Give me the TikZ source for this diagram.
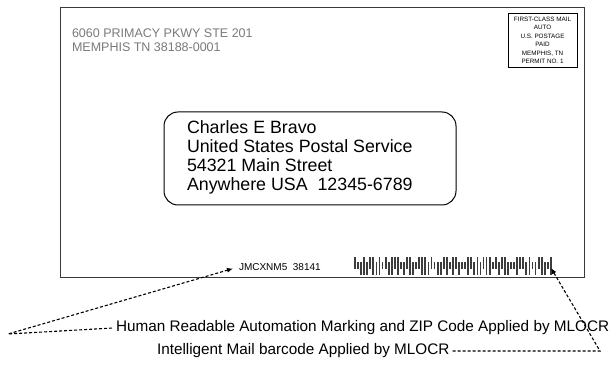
\documentclass[tikz,border=0pt]{standalone}
\usepackage{fontspec}
\setmainfont{Liberation Sans}
\usetikzlibrary{arrows.meta}
\definecolor{envline}{HTML}{3A3A3A}
\definecolor{retgray}{HTML}{7A7A7A}
\definecolor{barcol}{HTML}{3C3C3C}
\begin{document}
\begin{tikzpicture}[x=1pt,y=-1pt,
  every node/.style={inner sep=0pt,outer sep=0pt},
  txt/.style={anchor=base west},
  retaddr/.style={txt,text=retgray,font=\fontsize{12.5}{15}\selectfont},
  stamptxt/.style={anchor=base,font=\fontsize{6.3}{7}\selectfont},
  addrtxt/.style={txt,font=\fontsize{17.8}{19}\selectfont},
  note/.style={txt,font=\fontsize{15.3}{18}\selectfont},
  dsh/.style={line width=1.1pt,dash pattern=on 3pt off 2pt,-{Latex[length=6pt,width=5pt]}}]
\useasboundingbox (0,0) rectangle (614,371);
\fill[white] (0,0) rectangle (614,371);
% envelope
\draw[envline,line width=1pt] (60,8) rectangle (584,278);
% return address
\node[retaddr] (ret1) at (72,38) {6060 PRIMACY PKWY STE 201};
\node[retaddr] (ret2) at (72,52) {MEMPHIS TN 38188-0001};
% stamp / indicia
\draw[line width=0.8pt] (508,13) rectangle (577,67);
\node[stamptxt] (s1) at (542.5,22) {FIRST-CLASS MAIL};
\node[stamptxt] (s2) at (542.5,30) {AUTO};
\node[stamptxt] (s3) at (542.5,39) {U.S. POSTAGE};
\node[stamptxt] (s4) at (542.5,47) {PAID};
\node[stamptxt] (s5) at (542.5,56) {MEMPHIS, TN};
\node[stamptxt] (s6) at (542.5,64) {PERMIT NO. 1};
% address window
\draw[line width=1pt,rounded corners=14pt] (164,112) rectangle (456,205);
\node[addrtxt] (a1) at (187,134) {Charles E Bravo};
\node[addrtxt] (a2) at (187,153) {United States Postal Service};
\node[addrtxt] (a3) at (187,172) {54321 Main Street};
\node[addrtxt] (a4) at (187,191) {Anywhere USA\ \ 12345-6789};
% automation marking
\node[txt,font=\fontsize{10}{12}\selectfont] (jmc) at (239,271) {JMCXNM5\ \ 38141};
% barcode
\node[minimum width=200pt,minimum height=18pt] (bc) at (453,266) {};
\foreach \t [count=\i] in {A,T,D,F,D,A,F,D,F,T,A,D,F,A,F,T,D,A,F,D,T,A,F,F,D,A,T,D,D,A,F,T,F,A,D,T,T,F,A,D,F,D,A,F,F,T,A,D,A,F,D,T,T,F,A,A,D,F,T,D,A,F,D,T,F}{
  \pgfmathsetmacro\xx{355+(\i-1)*3.06}
  \if\t F \fill[barcol] (\xx-0.9,257) rectangle (\xx+0.9,275);\fi
  \if\t A \fill[barcol] (\xx-0.9,257) rectangle (\xx+0.9,269.5);\fi
  \if\t D \fill[barcol] (\xx-0.9,262.5) rectangle (\xx+0.9,275);\fi
  \if\t T \fill[barcol] (\xx-0.9,262.5) rectangle (\xx+0.9,269.5);\fi
}
% captions
\node[note] (human) at (116,332) {Human Readable Automation Marking and ZIP Code Applied by MLOCR};
\node[note] (intel) at (157,355) {Intelligent Mail barcode Applied by MLOCR};
% connectors
\coordinate (v1) at (8,334);
\coordinate (v2) at (600,351);
\coordinate (tip2) at (551,268);
\draw[dsh] ([xshift=-4pt]human.west) -- (v1) -- ([xshift=-6pt,yshift=-1pt]jmc.west);
\draw[dsh] ([xshift=3pt]intel.east) -- (v2) -- (tip2);
\end{tikzpicture}
\end{document}
